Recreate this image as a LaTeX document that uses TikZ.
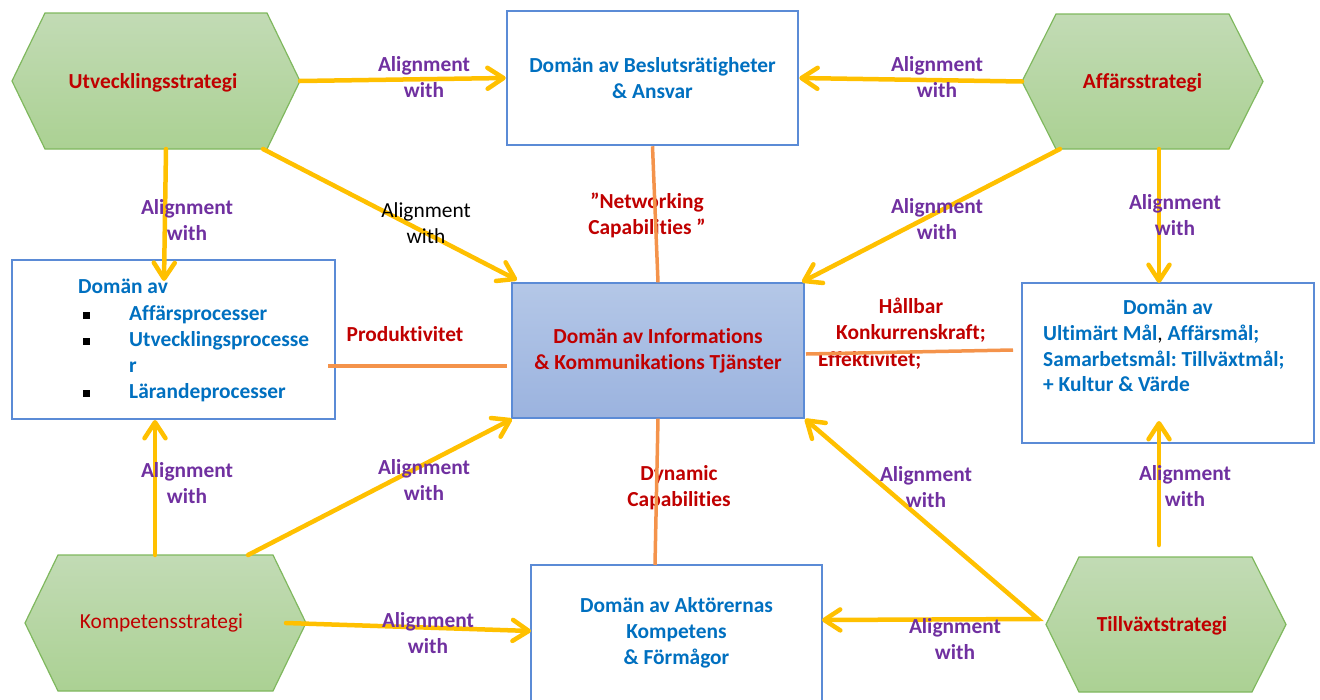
\documentclass[tikz,border=0pt]{standalone}
\usepackage{fontspec}
\setmainfont{Carlito}[Ligatures={NoCommon}]
\usetikzlibrary{arrows.meta,calc}
\frenchspacing

\definecolor{gold}{HTML}{FFC000}
\definecolor{bridgeorange}{HTML}{F4934B}
\definecolor{frameblue}{HTML}{5B8BD6}
\definecolor{textblue}{HTML}{0070C0}
\definecolor{darkred}{HTML}{C00000}
\definecolor{alignviolet}{HTML}{7030A0}
\definecolor{hextop}{HTML}{C2DBB5}
\definecolor{hexbottom}{HTML}{ABD193}
\definecolor{hexedge}{HTML}{7FB85E}
\definecolor{ictop}{HTML}{B4C7E7}
\definecolor{icbottom}{HTML}{9BB3DF}
\definecolor{icedge}{HTML}{5B8BD6}

\newcommand\diagfont{\fontsize{21.4}{26}\selectfont}
\newcommand\itembullet{\makebox[46pt][l]{\color{black}\rule[1.5pt]{6.5pt}{6.5pt}}}

% strategy hexagon: name, left x, top-left x, top-right x, right x, top y, bottom y
\newcommand\strathex[7]{%
  \coordinate (#1-l) at (#2,{(#6+#7)/2});
  \coordinate (#1-tl) at (#3,#6);
  \coordinate (#1-tr) at (#4,#6);
  \coordinate (#1-r) at (#5,{(#6+#7)/2});
  \coordinate (#1-br) at (#4,#7);
  \coordinate (#1-bl) at (#3,#7);
  \path[hexshape] (#1-l) -- (#1-tl) -- (#1-tr) -- (#1-r) -- (#1-br) -- (#1-bl) -- cycle;
}

\tikzset{
  barb/.tip={Straight Barb[length=16pt, width=21pt, round]},
  hexshape/.style={draw=hexedge, line width=1.2pt, top color=hextop, bottom color=hexbottom},
  hextext/.style={font=\diagfont\bfseries, text=darkred, inner sep=0pt},
  domainbox/.style={draw=frameblue, line width=2.5pt, fill=white, inner sep=0pt,
    font=\diagfont\bfseries, text=textblue, align=center},
  domaintext/.style={font=\diagfont\bfseries, text=textblue, inner sep=0pt},
  ictbox/.style={draw=icedge, line width=1.2pt, top color=ictop, bottom color=icbottom,
    inner sep=0pt, font=\diagfont\bfseries, text=darkred, align=center},
  alignlabel/.style={font=\diagfont\bfseries, text=alignviolet, align=center, inner sep=0pt},
  outcomelabel/.style={font=\diagfont\bfseries, text=darkred, align=center, inner sep=0pt},
  alignarrow/.style={draw=gold, line width=4.5pt, line cap=round, -barb},
  bridgeline/.style={draw=bridgeorange, line width=3.5pt},
}

\begin{document}
\begin{tikzpicture}[x=1pt, y=-1pt]
\useasboundingbox (0,0) rectangle (1320,699);
\clip (0,0) rectangle (1320,699);

% strategy hexagons
\strathex{utv}{12}{45}{267}{300}{13}{149}
\strathex{aff}{1022}{1056}{1229}{1263}{14}{149}
\strathex{kmp}{25}{58}{273}{306}{555}{691}
\strathex{tvx}{1046}{1079}{1252}{1286}{557}{692}

\node[hextext] (utv) at (153,83) {Utvecklingsstrategi};
\node[hextext] (aff) at (1142.5,83) {Affärsstrategi};
\node[hextext, font=\diagfont\mdseries] (kmp) at (161.5,623) {Kompetensstrategi};
\node[hextext] (tvx) at (1162,626) {Tillväxtstrategi};

% domain boxes
\node[domainbox, minimum width=291pt, minimum height=134pt] (besl) at (652.5,78)
  {Domän av Beslutsrätigheter\\\& Ansvar};
\node[domainbox, minimum width=323pt, minimum height=159pt] (domL) at (173.5,339.5) {};
\node[domainbox, minimum width=292pt, minimum height=160pt] (domR) at (1168,363) {};
\node[domainbox, minimum width=291pt, minimum height=136pt] (akt) at (676.5,633)
  {Domän av Aktörernas\\Kompetens\\\& Förmågor};
\node[ictbox, minimum width=292pt, minimum height=135pt] (ikt) at (658,350.5)
  {Domän av Informations\\\& Kommunikations Tjänster};

% process domain contents
\node[domaintext, anchor=base west] (domL-h) at (78,293) {Domän av};
\node[domaintext, anchor=base west] (domL-a) at (83,320) {\itembullet Affärsprocesser};
\node[domaintext, anchor=base west] (domL-b) at (83,346) {\itembullet Utvecklingsprocesse};
\node[domaintext, anchor=base west] (domL-c) at (129,372) {r};
\node[domaintext, anchor=base west] (domL-d) at (83,398) {\itembullet Lärandeprocesser};

% goal domain contents
\node[domaintext, anchor=base] (domR-h) at (1168,314) {Domän av};
\node[domaintext, anchor=base west] (domR-a) at (1043,340)
  {Ultimärt Mål{\color{black}\mdseries,} Affärsmål;};
\node[domaintext, anchor=base west] (domR-b) at (1043,366) {Samarbetsmål: Tillväxtmål;};
\node[domaintext, anchor=base west] (domR-c) at (1043,391) {+ Kultur \& Värde};

% outcome labels
\node[outcomelabel] (netw) at (647,215.5) {”Networking\\Capabilities ”};
\node[outcomelabel] (dyn) at (679,488) {Dynamic\\Capabilities};
\node[outcomelabel] (prod) at (405,334) {Produktivitet};
\node[outcomelabel] (hall) at (911,320.5) {Hållbar\\Konkurrenskraft;};
\node[outcomelabel, anchor=west] (eff) at (818,360) {Effektivitet;};

% connector end points
\coordinate (utv-s) at (166,149);
\coordinate (utv-se) at (263,149);
\coordinate (aff-sw) at (1060,149);
\coordinate (aff-s) at (1159,149);
\coordinate (kmp-n) at (155,555);
\coordinate (kmp-ne) at (248,555);
\coordinate (kmp-e) at (286,623);
\coordinate (tvx-j) at (1038,619);
\coordinate (tvx-n) at (1159,545);
\coordinate (domL-n) at (164,281);
\coordinate (domL-s) at (155,420);
\coordinate (domL-o) at (328,366);
\coordinate (domR-n) at (1159,283);
\coordinate (domR-s) at (1159,421);
\coordinate (domR-o) at (1013,350);
\coordinate (ikt-nw) at (517,280);
\coordinate (ikt-ne) at (802,282);
\coordinate (ikt-sw) at (512,419);
\coordinate (ikt-se) at (805,419);
\coordinate (ikt-wo) at (507,366);
\coordinate (ikt-eo) at (806,354);
\coordinate (akt-o) at (655,565);
\coordinate (akt-w) at (531,631);
\coordinate (akt-e) at (822,620);

% capability bridges
\draw[bridgeline] (besl.south) -- (ikt.north);
\draw[bridgeline] (ikt.south) -- (akt-o);
\draw[bridgeline] (domL-o) -- (ikt-wo);
\draw[bridgeline] (ikt-eo) -- (domR-o);

% alignment arrows
\draw[alignarrow] (utv-r) -- (besl.west);
\draw[alignarrow] (aff-l) -- (besl.east);
\draw[alignarrow] (utv-s) -- (domL-n);
\draw[alignarrow] (utv-se) -- (ikt-nw);
\draw[alignarrow] (aff-sw) -- (ikt-ne);
\draw[alignarrow] (aff-s) -- (domR-n);
\draw[alignarrow] (kmp-n) -- (domL-s);
\draw[alignarrow] (kmp-ne) -- (ikt-sw);
\draw[alignarrow] (kmp-e) -- (akt-w);
\draw[alignarrow, barb-barb, line join=miter] (ikt-se) -- (tvx-j) -- (akt-e);
\draw[alignarrow] (tvx-n) -- (domR-s);

% alignment labels
\node[alignlabel] (al1) at (424,77.5) {Alignment\\with};
\node[alignlabel] (al2) at (937,77.5) {Alignment\\with};
\node[alignlabel] (al3) at (187,220) {Alignment\\with};
\node[alignlabel, text=black, font=\diagfont\mdseries] (al4) at (426,223) {Alignment\\with};
\node[alignlabel] (al5) at (937,219.5) {Alignment\\with};
\node[alignlabel] (al6) at (1175,215.5) {Alignment\\with};
\node[alignlabel] (al7) at (187,483) {Alignment\\with};
\node[alignlabel] (al8) at (424,480) {Alignment\\with};
\node[alignlabel] (al9) at (428,633) {Alignment\\with};
\node[alignlabel] (al10) at (955,639) {Alignment\\with};
\node[alignlabel] (al11) at (926,487) {Alignment\\with};
\node[alignlabel] (al12) at (1185,486.5) {Alignment\\with};
\end{tikzpicture}
\end{document}
